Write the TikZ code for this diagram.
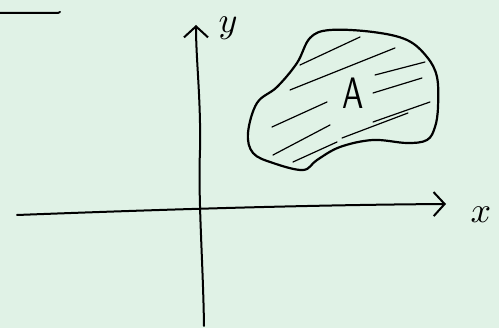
\documentclass[tikz,border=0pt]{standalone}
\usepackage{xcolor}
\usetikzlibrary{arrows.meta}
\definecolor{paper}{RGB}{224,242,230}
\tikzset{
  pen/.style={draw=black, line width=2pt, line cap=round, line join=round},
  hatch/.style={draw=black, line width=1.2pt, line cap=round},
  axis/.style={pen, -{Straight Barb[length=11pt, width=24pt, line width=2pt]}},
  lab/.style={inner sep=0pt, anchor=center},
}
\begin{document}
\begin{tikzpicture}[x=1pt, y=-1pt]
    \fill[paper] (0,0) rectangle (499,328);
    \useasboundingbox (0,0) rectangle (499,328);
    % corner stroke
    \coordinate (c0) at (0,13);
    \coordinate (c1) at (60,12);
    \draw[pen] (c0) -- (58,13) to[out=0, in=-120] (c1);
    % axes
    \coordinate (xs) at (17,215);
    \coordinate (xe) at (446,204);
    \coordinate (ys) at (204,326);
    \coordinate (ye) at (196,25);
    \draw[axis] (xs) .. controls (150,210) and (300,205) .. (xe);
    \draw[axis] (ys) .. controls (203,260) and (198,200) .. (200,150) .. controls (201,100) and (196,60) .. (ye);
    \node[lab] (ylab) at (228,28) {\scalebox{3.6}{$y$}};
    \node[lab] (xlab) at (481,215) {\scalebox{3.6}{$x$}};
    % region
    \draw[pen, line width=2.2pt] plot[smooth cycle, tension=0.6] coordinates {
      (310,38) (330,30) (373,32) (407,40) (427,57) (437,77) (438,107)
      (435,127) (427,140) (407,143) (373,140) (340,147) (317,160) (303,170)
      (273,163) (253,153) (248,133) (257,103) (277,87) (297,63)};
    \foreach \xa/\ya/\xb/\yb in {
      300/65/360/37, 290/90/395/48, 375/75/425/62, 373/93/422/78,
      272/127/327/102, 273/155/330/125, 293/162/337/142,
      342/138/408/113, 373/122/430/102}{
      \draw[hatch] (\xa,\ya) -- (\xb,\yb);
    }
    \node[lab] (area) at (353,93) {\scalebox{3.2}[4.4]{\textsf{A}}};
  \end{tikzpicture}
\end{document}
